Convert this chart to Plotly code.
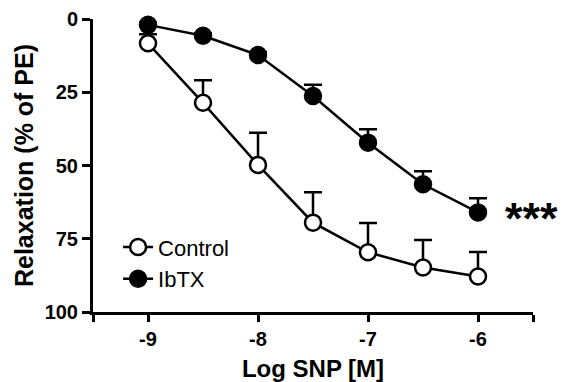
import plotly.graph_objects as go

log_snp = [-9, -8.5, -8, -7.5, -7, -6.5, -6]
control = [8.3, 28.6, 49.8, 69.5, 79.6, 84.8, 87.9]
control_sem = [3.1, 7.7, 11.0, 10.4, 10.0, 9.4, 8.4]
ibtx = [2.0, 5.7, 12.3, 26.3, 42.2, 56.4, 66.0]
ibtx_sem = [0.8, 0.8, 1.0, 3.9, 4.6, 4.4, 4.8]

x_tickvals = [-9.5, -9, -8, -7, -6, -5.5]
x_ticktext = ["", "-9", "-8", "-7", "-6", ""]
y_tickvals = [0, 25, 50, 75, 100]

FONT = "Liberation Sans, Arial, sans-serif"

fig = go.Figure()

fig.add_trace(go.Scatter(
    x=log_snp, y=ibtx, name="IbTX", mode="lines+markers",
    line=dict(color="black", width=2.5),
    marker=dict(size=16, color="black", line=dict(color="black", width=2.5)),
    error_y=dict(type="data", symmetric=False, array=[0] * len(ibtx),
                 arrayminus=ibtx_sem, color="black", thickness=2.5, width=9),
    cliponaxis=False,
))
fig.add_trace(go.Scatter(
    x=log_snp, y=control, name="Control", mode="lines+markers",
    line=dict(color="black", width=2.5),
    marker=dict(size=16, color="white", line=dict(color="black", width=2.5)),
    error_y=dict(type="data", symmetric=False, array=[0] * len(control),
                 arrayminus=control_sem, color="black", thickness=2.5, width=9),
    cliponaxis=False,
))

fig.add_annotation(x=-5.77, y=68, xref="x", yref="y", text="<b>***</b>",
                   showarrow=False, xanchor="left", yanchor="middle",
                   font=dict(family=FONT, size=45, color="black"))

fig.update_layout(
    width=567, height=382,
    margin=dict(l=93, r=34, t=19, b=70, autoexpand=False),
    paper_bgcolor="white", plot_bgcolor="white",
    font=dict(family=FONT, color="black"),
    showlegend=True,
    legend=dict(x=0.057, y=0.04, xanchor="left", yanchor="bottom",
                traceorder="reversed", bgcolor="rgba(0,0,0,0)",
                font=dict(family=FONT, size=22, color="black"),
                itemsizing="trace", tracegroupgap=0),
    xaxis=dict(range=[-9.5, -5.5], tickvals=x_tickvals, ticktext=x_ticktext,
               showgrid=False, zeroline=False, showline=True, automargin=True,
               linecolor="black", linewidth=3, ticks="outside", ticklen=7,
               tickwidth=3, tickcolor="black",
               tickfont=dict(family=FONT, size=20, color="black", weight="bold"),
               title=dict(text="<b>Log SNP [M]</b>", standoff=16,
                          font=dict(family=FONT, size=24, color="black"))),
    yaxis=dict(range=[100, 0], tickvals=y_tickvals,
               showgrid=False, zeroline=False, showline=True, automargin=True,
               linecolor="black", linewidth=3, ticks="outside", ticklen=8,
               tickwidth=3, tickcolor="black",
               tickfont=dict(family=FONT, size=20, color="black", weight="bold"),
               title=dict(text="<b>Relaxation (% of PE)</b>", standoff=4,
                          font=dict(family=FONT, size=25, color="black"))),
)

fig.write_html("out.html", config={"displayModeBar": False},
               post_script="document.body.style.margin='0';")
